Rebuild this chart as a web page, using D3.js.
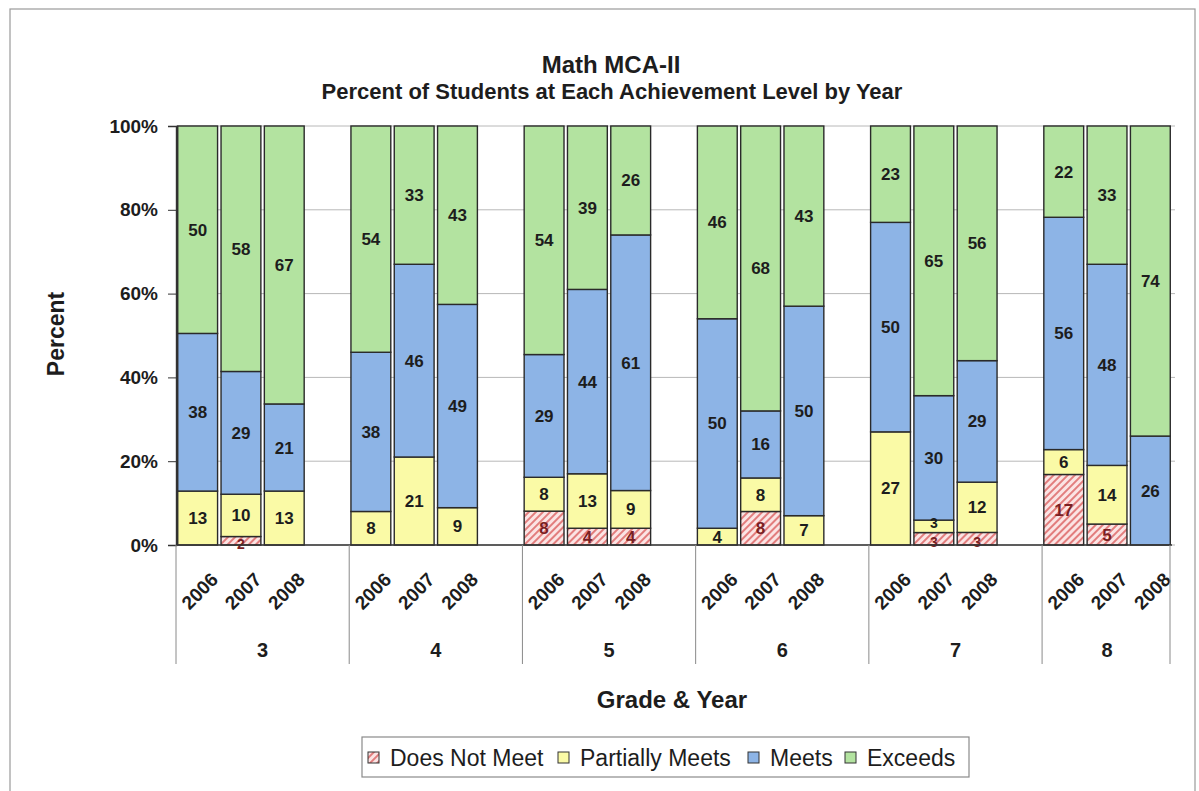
<!DOCTYPE html>
<html>
<head>
<meta charset="utf-8">
<script src="https://cdn.jsdelivr.net/npm/d3@7"></script>
<style>
  html, body { margin: 0; padding: 0; background: #ffffff; }
  svg { display: block; font-family: "Liberation Sans", Arial, sans-serif; }
</style>
</head>
<body>
<svg id="chart" width="1199" height="791"></svg>
<script>
// ---------- data ----------
const grades = ["3", "4", "5", "6", "7", "8"];
const years = ["2006", "2007", "2008"];
const levels = ["Does Not Meet", "Partially Meets", "Meets", "Exceeds"];
// values listed grade by grade, 2006, 2007, 2008
const doesNotMeet    = [0, 2, 0,   0, 0, 0,   8, 4, 4,   0, 8, 0,   0, 3, 3,   17, 5, 0];
const partiallyMeets = [13, 10, 13, 8, 21, 9, 8, 13, 9,  4, 8, 7,   27, 3, 12, 6, 14, 0];
const meets          = [38, 29, 21, 38, 46, 49, 29, 44, 61, 50, 16, 50, 50, 30, 29, 56, 48, 26];
const exceeds        = [50, 58, 67, 54, 33, 43, 54, 39, 26, 46, 68, 43, 23, 65, 56, 22, 33, 74];
const yTicks = [0, 0.2, 0.4, 0.6, 0.8, 1.0];

// ---------- build records ----------
const seriesArrays = [doesNotMeet, partiallyMeets, meets, exceeds];
const records = [];
grades.forEach((g, gi) => {
  years.forEach((y, yi) => {
    const idx = gi * years.length + yi;
    const r = { grade: g, year: y, key: g + "|" + y };
    levels.forEach((l, li) => { r[l] = seriesArrays[li][idx]; });
    records.push(r);
  });
});

// slots: three years per grade plus a blank slot between grades
const slots = [];
grades.forEach((g, gi) => {
  years.forEach(y => slots.push(g + "|" + y));
  if (gi < grades.length - 1) slots.push(g + "|gap");
});

// ---------- layout ----------
const svg = d3.select("#chart");
const plot = { left: 176, right: 1172, top: 126, bottom: 545 };

const x = d3.scaleBand().domain(slots).range([plot.left, plot.right])
  .paddingInner(0.08).paddingOuter(0.04);
const y = d3.scaleLinear().domain([0, 1]).range([plot.bottom, plot.top]);

const colors = {
  "Does Not Meet": "url(#hatch)",
  "Partially Meets": "#fafaa6",
  "Meets": "#8db4e6",
  "Exceeds": "#b3e3a0"
};
const labelColors = {
  "Does Not Meet": "#7a1f24",
  "Partially Meets": "#1d1d1d",
  "Meets": "#1d1d1d",
  "Exceeds": "#1d1d1d"
};

// hatch pattern
const defs = svg.append("defs");
const pat = defs.append("pattern").attr("id", "hatch")
  .attr("patternUnits", "userSpaceOnUse").attr("width", 5).attr("height", 5)
  .attr("patternTransform", "rotate(45)");
pat.append("rect").attr("width", 5).attr("height", 5).attr("fill", "#fbe4e4");
pat.append("rect").attr("x", 0).attr("width", 2).attr("height", 5).attr("fill", "#e27d7d");

// outer frame
svg.append("rect").attr("x", 10).attr("y", 9).attr("width", 1185).attr("height", 800)
  .attr("fill", "none").attr("stroke", "#9a9a9a").attr("stroke-width", 1.2);

// gridlines
svg.append("g").selectAll("line").data(yTicks).join("line")
  .attr("x1", plot.left).attr("x2", plot.right + 3)
  .attr("y1", d => y(d)).attr("y2", d => y(d))
  .attr("stroke", "#b8b8b8").attr("stroke-width", 1);

// stacked bars (normalized to 100%)
const stack = d3.stack().keys(levels).offset(d3.stackOffsetExpand);
const stacked = stack(records);

const layers = svg.append("g").selectAll("g").data(stacked).join("g")
  .attr("fill", d => colors[d.key]);

layers.selectAll("rect").data(d => d.filter(s => s.data[d.key] > 0)).join("rect")
  .attr("x", d => x(d.data.key))
  .attr("width", x.bandwidth())
  .attr("y", d => y(d[1]))
  .attr("height", d => y(d[0]) - y(d[1]))
  .attr("stroke", "#2a2a2a").attr("stroke-width", 1.4);

// value labels
const labels = svg.append("g").attr("font-weight", "bold").attr("text-anchor", "middle");
stacked.forEach(layer => {
  labels.selectAll(null).data(layer.filter(s => s.data[layer.key] > 0)).join("text")
    .attr("x", d => x(d.data.key) + x.bandwidth() / 2)
    .attr("y", d => {
      const v = d.data[layer.key];
      let off = v < 4 ? 5 : 6;
      if (v < 4 && layer.key === "Does Not Meet") off += 3;
      if (v < 4 && layer.key === "Partially Meets") off -= 3;
      return (y(d[0]) + y(d[1])) / 2 + off;
    })
    .attr("font-size", d => d.data[layer.key] < 4 ? 14 : 17)
    .attr("fill", labelColors[layer.key])
    .text(d => d.data[layer.key]);
});

// y axis
const yAxis = d3.axisLeft(y).tickValues(yTicks).tickFormat(d3.format(".0%"))
  .tickSize(8).tickPadding(10);
const yg = svg.append("g").attr("transform", `translate(${plot.left},0)`).call(yAxis);
yg.select(".domain").attr("stroke", "#333").attr("stroke-width", 1.4);
yg.selectAll(".tick line").attr("stroke", "#333");
yg.selectAll(".tick text").attr("font-size", 19).attr("font-weight", "bold")
  .attr("fill", "#1d1d1d").attr("font-family", "Liberation Sans, Arial, sans-serif");

// x axis baseline
svg.append("line").attr("x1", plot.left).attr("x2", plot.right)
  .attr("y1", plot.bottom).attr("y2", plot.bottom)
  .attr("stroke", "#333").attr("stroke-width", 1.4);

// year labels
svg.append("g").selectAll("text").data(records).join("text")
  .attr("transform", d => `translate(${x(d.key) + x.bandwidth() / 2 + 2},${591}) rotate(-45)`)
  .attr("text-anchor", "middle").attr("dy", "0.35em")
  .attr("font-size", 19).attr("font-weight", "bold").attr("fill", "#1d1d1d")
  .text(d => d.year);

// group separators and grade labels
const groupBounds = grades.map((g, gi) => {
  const first = x(g + "|" + years[0]) - (x.step() - x.bandwidth()) / 2;
  const last = gi < grades.length - 1
    ? x(g + "|gap") + x.bandwidth() + (x.step() - x.bandwidth()) / 2
    : plot.right;
  return { g, x0: first, x1: last };
});
const sepX = groupBounds.map(b => b.x0).concat([plot.right - 2]);
svg.append("g").selectAll("line").data(sepX).join("line")
  .attr("x1", d => d).attr("x2", d => d)
  .attr("y1", plot.bottom).attr("y2", 664)
  .attr("stroke", "#8a8a8a").attr("stroke-width", 1);

svg.append("g").selectAll("text").data(groupBounds).join("text")
  .attr("x", d => (d.x0 + d.x1) / 2).attr("y", 657)
  .attr("text-anchor", "middle").attr("font-size", 20).attr("font-weight", "bold")
  .attr("fill", "#1d1d1d").text(d => d.g);

// titles
svg.append("text").attr("x", 611).attr("y", 73).attr("text-anchor", "middle")
  .attr("font-size", 24).attr("font-weight", "bold").attr("fill", "#1d1d1d")
  .text("Math MCA-II");
svg.append("text").attr("x", 612).attr("y", 99).attr("text-anchor", "middle")
  .attr("font-size", 22).attr("font-weight", "bold").attr("fill", "#1d1d1d")
  .text("Percent of Students at Each Achievement Level by Year");

// axis titles
svg.append("text").attr("transform", "translate(64,334) rotate(-90)")
  .attr("text-anchor", "middle").attr("font-size", 23).attr("font-weight", "bold")
  .attr("fill", "#1d1d1d").text("Percent");
svg.append("text").attr("x", 672).attr("y", 708).attr("text-anchor", "middle")
  .attr("font-size", 24).attr("font-weight", "bold").attr("fill", "#1d1d1d")
  .text("Grade & Year");

// legend
const legend = svg.append("g");
legend.append("rect").attr("x", 362).attr("y", 737).attr("width", 607).attr("height", 40)
  .attr("fill", "#ffffff").attr("stroke", "#8a8a8a").attr("stroke-width", 1.2);
const legendX = [368, 558, 748, 845];
const li = legend.selectAll("g").data(levels).join("g")
  .attr("transform", (d, i) => `translate(${legendX[i]},0)`);
li.append("rect").attr("x", 0).attr("y", 752).attr("width", 11).attr("height", 11)
  .attr("fill", d => colors[d]).attr("stroke", "#333").attr("stroke-width", 1);
li.append("text").attr("x", 22).attr("y", 766)
  .attr("font-size", 23).attr("fill", "#1d1d1d").text(d => d);
</script>
</body>
</html>
